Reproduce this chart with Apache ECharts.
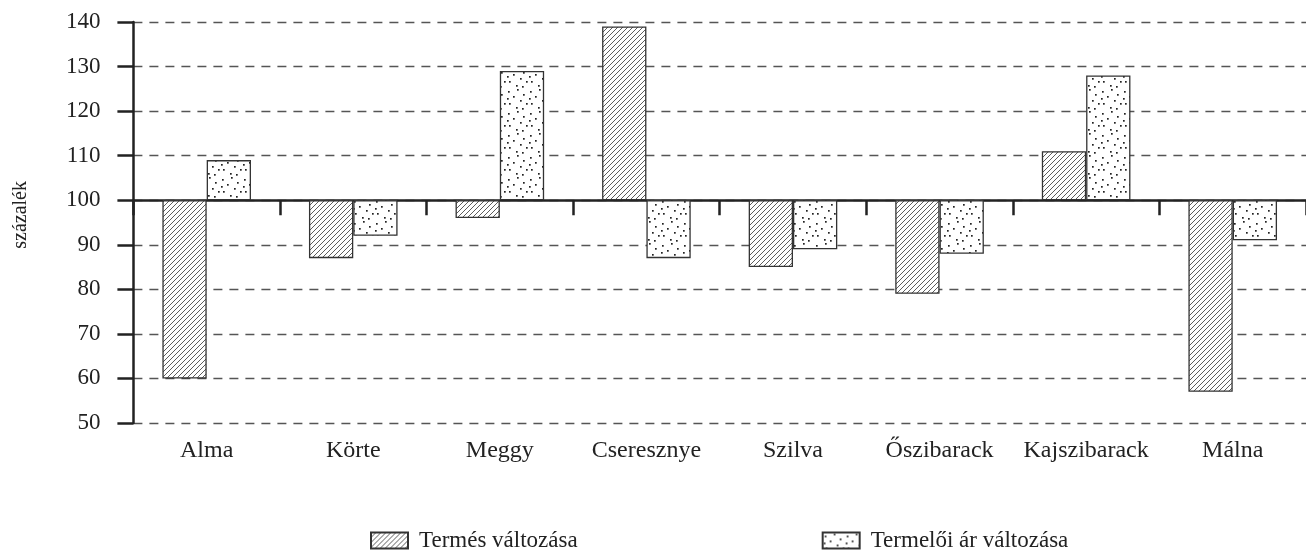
<!DOCTYPE html>
<html>
<head>
<meta charset="utf-8">
<script src="https://cdn.jsdelivr.net/npm/echarts@6/dist/echarts.min.js"></script>
<style>
html,body{margin:0;padding:0;background:#fff;}
#chart{width:1306px;height:555px;}
</style>
</head>
<body>
<div id="chart"></div>
<script>
const categories = ['Alma', 'Körte', 'Meggy', 'Cseresznye', 'Szilva', 'Őszibarack', 'Kajszibarack', 'Málna'];
const termesValtozasa = [60, 87, 96, 139, 85, 79, 111, 57];
const termeloiArValtozasa = [109, 92, 129, 87, 89, 88, 128, 91];
const seriesNames = ['Termés változása', 'Termelői ár változása'];
const axisTitle = 'százalék';
const yMin = 50, yMax = 140, yStep = 10, baseValue = 100;

const FONT = 'Liberation Serif';

function hatchPattern() {
  const c = document.createElement('canvas');
  c.width = 5; c.height = 5;
  const ctx = c.getContext('2d');
  ctx.fillStyle = '#fff'; ctx.fillRect(0, 0, 5, 5);
  ctx.strokeStyle = '#333'; ctx.lineWidth = 0.8;
  ctx.beginPath();
  ctx.moveTo(0, 5); ctx.lineTo(5, 0);
  ctx.moveTo(-1, 1); ctx.lineTo(1, -1);
  ctx.moveTo(4, 6); ctx.lineTo(6, 4);
  ctx.stroke();
  return c;
}
function dotPattern() {
  const c = document.createElement('canvas');
  c.width = 22; c.height = 22;
  const ctx = c.getContext('2d');
  ctx.fillStyle = '#fff'; ctx.fillRect(0, 0, 22, 22);
  ctx.fillStyle = '#222';
  const pts = [[2,3],[11,1],[17,6],[7,8],[14,12],[20,15],[3,15],[10,19],[16,20],[1,10]];
  pts.forEach(p => ctx.fillRect(p[0], p[1], 1.7, 1.7));
  return c;
}

const chart = echarts.init(document.getElementById('chart'), null, {renderer: 'canvas'});
const hatch = {image: hatchPattern(), repeat: 'repeat'};
const dots = {image: dotPattern(), repeat: 'repeat'};

chart.setOption({
  animation: false,
  backgroundColor: '#fff',
  textStyle: {fontFamily: FONT, color: '#222'},
  grid: {left: 133.4, right: -5, top: 22, bottom: 132, containLabel: false},
  legend: {
    left: 370, top: 529, padding: 0, icon: 'rect',
    itemWidth: 37, itemHeight: 16, itemGap: 244,
    textStyle: {fontFamily: FONT, fontSize: 23, color: '#222', padding: [0, 0, 0, 6]},
    data: seriesNames
  },
  graphic: [{
    type: 'text', left: 11, top: 181, rotation: Math.PI / 2,
    style: {text: axisTitle, font: '20px "Liberation Serif"', fill: '#222'}
  }],
  xAxis: [{
    type: 'category', data: categories,
    axisLine: {onZero: true, lineStyle: {color: '#222', width: 2.5}},
    axisTick: {show: true, length: 15, lineStyle: {color: '#222', width: 2.5}},
    axisLabel: {show: false},
    splitLine: {show: false}
  }, {
    type: 'category', data: categories, position: 'bottom',
    axisLine: {show: false, onZero: false}, axisTick: {show: false},
    axisLabel: {interval: 0, margin: 16, fontFamily: FONT, fontSize: 24, color: '#222'}
  }],
  yAxis: {
    type: 'value',
    min: yMin - baseValue, max: yMax - baseValue, interval: yStep,
    axisLine: {show: true, lineStyle: {color: '#222', width: 2.5}},
    axisTick: {show: true, length: 16, lineStyle: {color: '#222', width: 2.5}},
    axisLabel: {margin: 33, fontFamily: FONT, fontSize: 23, color: '#222',
      formatter: v => String(v + baseValue)},
    splitLine: {show: true, lineStyle: {color: '#555', width: 1.3, type: [9, 7]}}
  },
  series: [{
    name: seriesNames[0], type: 'bar', xAxisIndex: 0,
    barWidth: 44.3, barGap: '0%',
    data: termesValtozasa.map(v => v - baseValue),
    itemStyle: {color: hatch, borderColor: '#333', borderWidth: 1.3}
  }, {
    name: seriesNames[1], type: 'bar', xAxisIndex: 0,
    barWidth: 44.3, barGap: '0%',
    data: termeloiArValtozasa.map(v => v - baseValue),
    itemStyle: {color: dots, borderColor: '#333', borderWidth: 1.3}
  }]
});
</script>
</body>
</html>
